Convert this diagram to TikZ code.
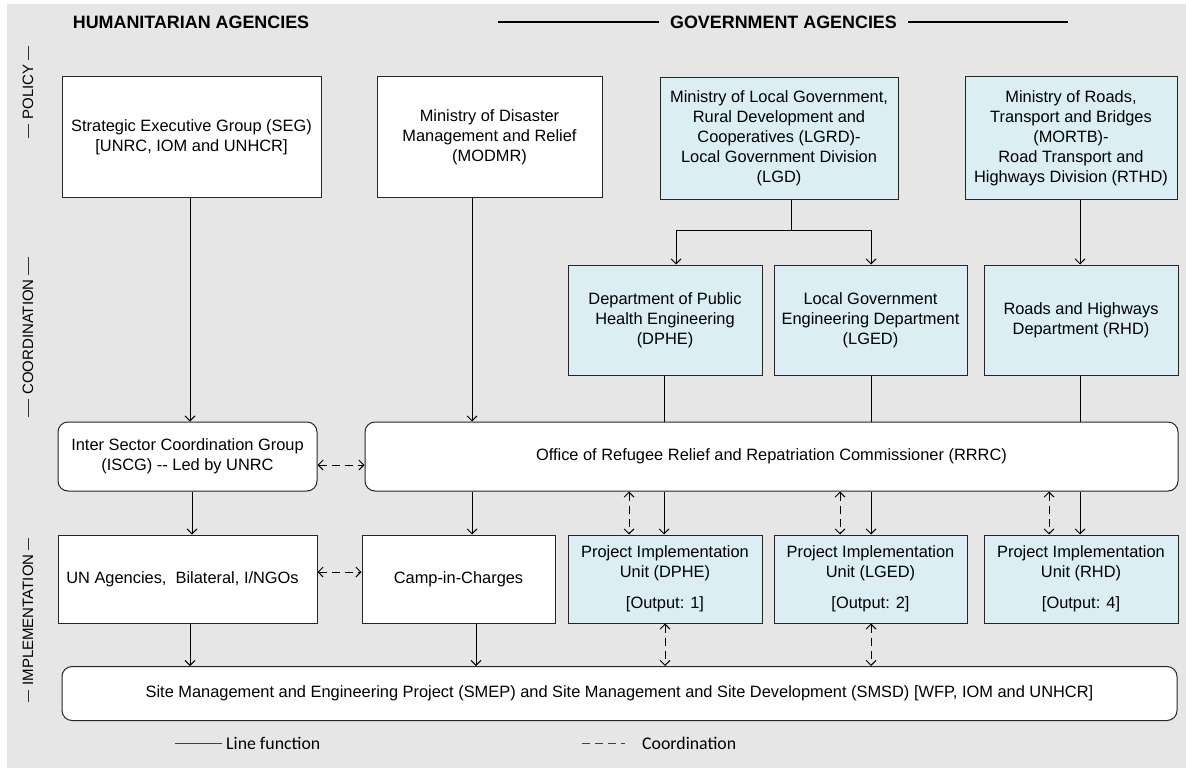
\documentclass[tikz,border=0pt]{standalone}
\usepackage{fontspec}
\usepackage{graphicx}
\setmainfont{Liberation Sans}
\newfontfamily\legendfont{Carlito}
\usetikzlibrary{arrows.meta}
\definecolor{bggray}{HTML}{E6E6E6}
\definecolor{lblue}{HTML}{DAEEF3}
\begin{document}
\begin{tikzpicture}[x=1pt,y=-1pt,
  txt/.style={font=\fontsize{16.4}{20}\selectfont},
  box/.style={draw=black!85, line width=1pt, fill=white, align=center, inner sep=1pt, txt},
  bbox/.style={box, fill=lblue},
  rbox/.style={box, rounded corners=10pt},
  ln/.style={line width=0.9pt},
  arr/.style={line width=0.9pt, -{Straight Barb[length=5pt,width=10pt]}},
  dbl/.style={line width=0.9pt, dash pattern=on 8pt off 5pt,
    {Straight Barb[length=5pt,width=10pt]}-{Straight Barb[length=5pt,width=10pt]}},
  hdr/.style={font=\bfseries\fontsize{17.9}{20}\selectfont, inner xsep=11pt},
  side/.style={rotate=90, font=\fontsize{15}{18}\selectfont, inner xsep=4pt, inner ysep=0pt},
  sideline/.style={line width=0.9pt, draw=black!80},
  leg/.style={font=\legendfont\fontsize{17.8}{20}\selectfont, anchor=west, inner sep=0pt}
]
\useasboundingbox (0,0) rectangle (1186,768);
\fill[bggray] (7,4) rectangle (1186,768);

% headers
\node[hdr] (hum) at (191,22) {HUMANITARIAN AGENCIES};
\node[hdr] (gov) at (783.5,22) {GOVERNMENT AGENCIES};
\coordinate (gl) at (498,22);
\coordinate (gr) at (1068,22);
\draw[line width=1.4pt] (gl) -- (gov.west);
\draw[line width=1.4pt] (gov.east) -- (gr);

% side labels
\node[side] (pol) at (28,92) {POLICY};
\node[side] (coo) at (28,337) {COORDINATION};
\node[side] (imp) at (28,620) {IMPLEMENTATION};
\draw[sideline] (pol.east) -- ++(0,-14);
\draw[sideline] (pol.west) -- ++(0,14);
\draw[sideline] (coo.east) -- ++(0,-18);
\draw[sideline] (coo.west) -- ++(0,18);
\draw[sideline] (imp.east) -- ++(0,-12);
\draw[sideline] (imp.west) -- ++(0,12);

% policy level
\node[box, minimum width=259, minimum height=120] (seg) at (191.5,137)
  {Strategic Executive Group (SEG)\\{[UNRC, IOM and UNHCR]}};
\node[box, minimum width=225, minimum height=120] (modmr) at (489.5,137)
  {Ministry of Disaster\\Management and Relief\\(MODMR)};
\node[bbox, minimum width=238, minimum height=121] (lgd) at (779,138.5)
  {Ministry of Local Government,\\Rural Development and\\Cooperatives (LGRD)-\\Local Government Division\\(LGD)};
\node[bbox, minimum width=212, minimum height=122] (mortb) at (1071,138)
  {Ministry of Roads,\\Transport and Bridges\\(MORTB)-\\Road Transport and\\Highways Division (RTHD)};

% coordination level
\node[bbox, minimum width=194, minimum height=110] (dphec) at (665,320)
  {Department of Public\\Health Engineering\\(DPHE)};
\node[bbox, minimum width=193, minimum height=110] (lgedc) at (870.5,320)
  {Local Government\\Engineering Department\\(LGED)};
\node[bbox, minimum width=194, minimum height=110] (rhdc) at (1081,320)
  {Roads and Highways\\Department (RHD)};

\node[rbox, minimum width=259, minimum height=69] (iscg) at (187.5,456.5)
  {Inter Sector Coordination Group\\(ISCG) -{}- Led by UNRC};
\node[rbox, minimum width=813, minimum height=69] (rrrc) at (771.5,456.5)
  {Office of Refugee Relief and Repatriation Commissioner (RRRC)};

% implementation level
\node[box, minimum width=259, minimum height=88] (un) at (187.5,579)
  {UN Agencies,\ \ Bilateral, I/NGOs\hspace{10pt}};
\node[box, minimum width=193, minimum height=88] (camp) at (458.5,579)
  {Camp-in-Charges};
\node[bbox, minimum width=194, minimum height=88] (piud) at (665,579)
  {Project Implementation\\Unit (DPHE)\\[11pt]{}[Output: 1]};
\node[bbox, minimum width=193, minimum height=88] (piul) at (870.5,579)
  {Project Implementation\\Unit (LGED)\\[11pt]{}[Output: 2]};
\node[bbox, minimum width=194, minimum height=88] (piur) at (1081,579)
  {Project Implementation\\Unit (RHD)\\[11pt]{}[Output: 4]};

\node[rbox, minimum width=1115, minimum height=54] (smep) at (619.5,693.5)
  {Site Management and Engineering Project (SMEP) and Site Management and Site Development (SMSD) [WFP, IOM and UNHCR]};

% x positions of connectors
\coordinate (x190) at (190,0);
\coordinate (x192) at (192,0);
\coordinate (x472) at (472,0);
\coordinate (x476) at (476,0);
\coordinate (x676) at (676,0);
\coordinate (x664) at (664,0);
\coordinate (x665) at (665,0);
\coordinate (x629) at (629,0);
\coordinate (x840) at (840,0);
\coordinate (x871) at (871,0);
\coordinate (x1049) at (1049,0);
\coordinate (x1080) at (1080,0);
\coordinate (br) at (791,230);
\coordinate (y465) at (0,465);
\coordinate (y572) at (0,572);

% solid line functions
\draw[arr] (seg.south -| x190) -- (iscg.north -| x190);
\draw[arr] (modmr.south -| x472) -- (rrrc.north -| x472);
\draw[ln] (lgd.south -| br) -- (br);
\draw[arr] (br) -| (dphec.north -| x676);
\draw[arr] (br) -| (lgedc.north -| x871);
\draw[arr] (mortb.south -| x1080) -- (rhdc.north -| x1080);

\draw[ln] (dphec.south -| x664) -- (rrrc.north -| x664);
\draw[ln] (lgedc.south -| x871) -- (rrrc.north -| x871);
\draw[ln] (rhdc.south -| x1080) -- (rrrc.north -| x1080);

\draw[arr] (iscg.south -| x192) -- (un.north -| x192);
\draw[arr] (rrrc.south -| x472) -- (camp.north -| x472);
\draw[arr] (rrrc.south -| x664) -- (piud.north -| x664);
\draw[arr] (rrrc.south -| x871) -- (piul.north -| x871);
\draw[arr] (rrrc.south -| x1080) -- (piur.north -| x1080);

\draw[arr] (un.south -| x190) -- (smep.north -| x190);
\draw[arr] (camp.south -| x476) -- (smep.north -| x476);

% coordination (dashed)
\draw[dbl] (iscg.east |- y465) -- (rrrc.west |- y465);
\draw[dbl] (un.east |- y572) -- (camp.west |- y572);
\draw[dbl] (rrrc.south -| x629) -- (piud.north -| x629);
\draw[dbl] (rrrc.south -| x840) -- (piul.north -| x840);
\draw[dbl] (rrrc.south -| x1049) -- (piur.north -| x1049);
\draw[dbl] (piud.south -| x665) -- (smep.north -| x665);
\draw[dbl] (piul.south -| x871) -- (smep.north -| x871);

% legend
\coordinate (l1a) at (175,743);
\coordinate (l1b) at (222,743);
\coordinate (l2a) at (582,743);
\coordinate (l2b) at (625,743);
\draw[line width=1pt, draw=black!75] (l1a) -- (l1b);
\node[leg] (lf) at (226,743) {Line function};
\draw[line width=1pt, draw=black!75, dash pattern=on 8pt off 5pt] (l2a) -- (l2b);
\node[leg] (cf) at (642,743) {Coordination};
\end{tikzpicture}
\end{document}
